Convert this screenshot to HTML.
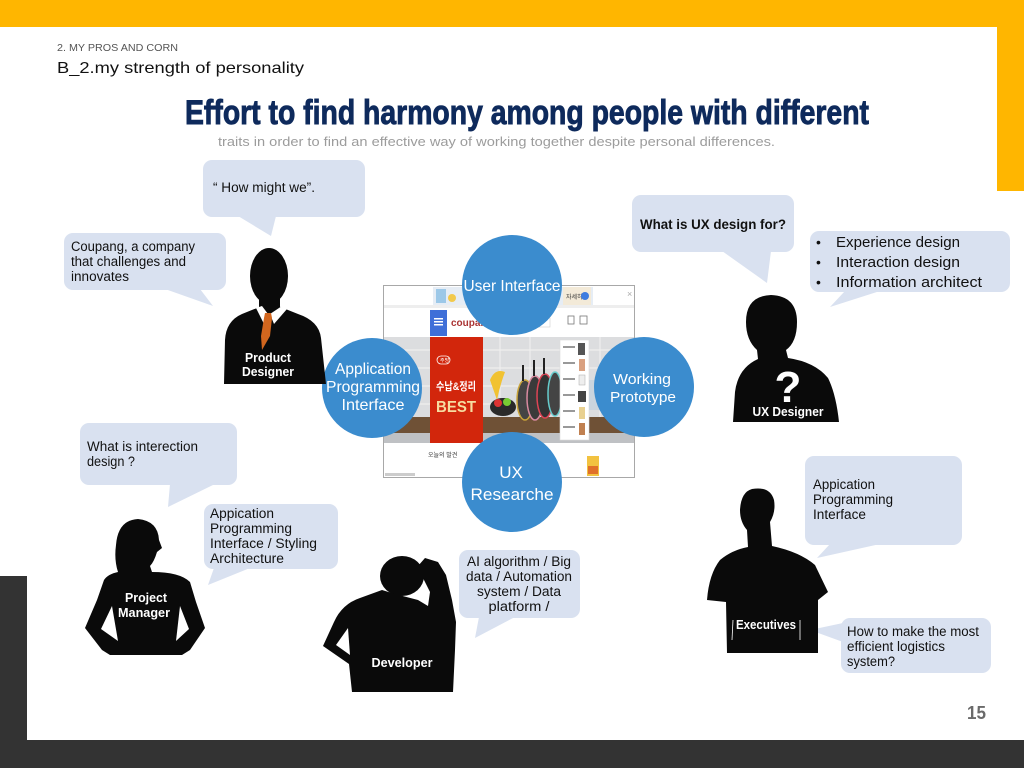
<!DOCTYPE html>
<html><head><meta charset="utf-8"><style>
html,body{margin:0;padding:0;background:#fff;}
svg{display:block;}
text{font-family:"Liberation Sans","Noto Sans CJK KR",sans-serif;}
</style></head><body>
<svg width="1024" height="768" viewBox="0 0 1024 768" xmlns="http://www.w3.org/2000/svg">
<rect width="1024" height="768" fill="#fff"/>
<!-- frame -->
<rect x="0" y="0" width="1024" height="27" fill="#FFB600"/>
<rect x="997" y="0" width="27" height="191" fill="#FFB600"/>
<rect x="0" y="576" width="27" height="192" fill="#333"/>
<rect x="0" y="740" width="1024" height="28" fill="#333"/>

<!-- headers -->
<text x="57" y="51" font-size="10" fill="#555" textLength="121" lengthAdjust="spacingAndGlyphs">2. MY PROS AND CORN</text>
<text x="57" y="73" font-size="16" fill="#111" textLength="247" lengthAdjust="spacingAndGlyphs">B_2.my strength of personality</text>
<text x="185" y="124" font-size="34" font-weight="bold" fill="#0e2a5c" stroke="#0e2a5c" stroke-width="0.9" textLength="684" lengthAdjust="spacingAndGlyphs">Effort to find harmony among people with different</text>
<text x="218" y="146" font-size="13" fill="#9c9c9c" textLength="557" lengthAdjust="spacingAndGlyphs">traits in order to find an effective way of working together despite personal differences.</text>

<!-- center screenshot -->
<g>
<rect x="383.5" y="285.5" width="251" height="192" fill="#fff" stroke="#a8a8a8"/>
<rect x="433" y="287" width="160" height="18" fill="#e6edf5"/>
<rect x="436" y="289" width="10" height="14" fill="#9cc8e8"/>
<circle cx="452" cy="298" r="4" fill="#f2c94c"/>
<rect x="563" y="287" width="28" height="18" fill="#f3ead8"/>
<text x="566" y="299" font-size="6" fill="#333">자세히</text>
<circle cx="585" cy="296" r="4" fill="#3d7ce0"/>
<text x="627" y="297" font-size="9" fill="#aaa">×</text>
<rect x="384" y="305" width="250" height="3" fill="#eee"/>
<rect x="430" y="310" width="17" height="26" fill="#3f6fd8"/>
<rect x="434" y="318" width="9" height="1.5" fill="#fff"/><rect x="434" y="321" width="9" height="1.5" fill="#fff"/><rect x="434" y="324" width="9" height="1.5" fill="#fff"/>
<text x="451" y="326" font-size="10" font-weight="bold" fill="#a33">coupang</text>
<rect x="500" y="318" width="50" height="9" fill="#fff" stroke="#ccc" stroke-width="0.6"/>
<rect x="568" y="316" width="6" height="8" fill="none" stroke="#777" stroke-width="0.8"/>
<rect x="580" y="316" width="7" height="8" fill="none" stroke="#777" stroke-width="0.8"/>
<!-- hero -->
<rect x="384" y="337" width="250" height="106" fill="#dcdddf"/>
<g stroke="#eeeeee" stroke-width="1.2">
<line x1="384" y1="350" x2="634" y2="350"/><line x1="384" y1="368" x2="634" y2="368"/><line x1="384" y1="386" x2="634" y2="386"/><line x1="384" y1="404" x2="634" y2="404"/>
<line x1="500" y1="337" x2="500" y2="417"/><line x1="530" y1="337" x2="530" y2="417"/><line x1="600" y1="337" x2="600" y2="417"/>
</g>
<rect x="384" y="417" width="250" height="16" fill="#6f5136"/>
<rect x="384" y="433" width="250" height="10" fill="#bfc1c4"/>
<rect x="430" y="337" width="53" height="106" fill="#d2260c"/>
<rect x="437" y="356" width="13" height="8" rx="4" fill="none" stroke="#fff" stroke-width="0.8"/>
<text x="440" y="362" font-size="5" fill="#fff">주방</text>
<text x="436" y="390" font-size="11" font-weight="bold" fill="#fff" textLength="40" lengthAdjust="spacingAndGlyphs">수납&amp;정리</text>
<text x="436" y="412" font-size="16" font-weight="bold" fill="#f6dca0" textLength="40" lengthAdjust="spacingAndGlyphs">BEST</text>
<!-- fruit basket -->
<path d="M490,380 Q495,368 505,372 Q500,385 497,400 Z" fill="#f1c232"/>
<ellipse cx="503" cy="407" rx="13" ry="9" fill="#2a2a2a"/>
<circle cx="498" cy="403" r="4" fill="#d33"/><circle cx="507" cy="402" r="4" fill="#7c3"/>
<!-- pans -->
<ellipse cx="525" cy="400" rx="8" ry="20" fill="#444" stroke="#c9a43a" stroke-width="1.5"/>
<ellipse cx="535" cy="398" rx="8" ry="22" fill="#3a3a3a" stroke="#d98aa0" stroke-width="1.5"/>
<ellipse cx="545" cy="396" rx="8" ry="22" fill="#333" stroke="#d45" stroke-width="1.5"/>
<ellipse cx="555" cy="394" rx="7" ry="22" fill="#444" stroke="#6cc" stroke-width="1.5"/>
<rect x="522" y="365" width="2" height="16" fill="#222"/><rect x="533" y="360" width="2" height="16" fill="#222"/><rect x="543" y="358" width="2" height="16" fill="#222"/>
<!-- product list -->
<rect x="560" y="340" width="29" height="100" fill="#fff" stroke="#ddd" stroke-width="0.6"/>
<g fill="#999"><rect x="563" y="346" width="12" height="2"/><rect x="563" y="362" width="12" height="2"/><rect x="563" y="378" width="12" height="2"/><rect x="563" y="394" width="12" height="2"/><rect x="563" y="410" width="12" height="2"/><rect x="563" y="426" width="12" height="2"/></g>
<g><rect x="578" y="343" width="7" height="12" fill="#555"/><rect x="579" y="359" width="6" height="12" fill="#d9a080"/><rect x="579" y="375" width="6" height="10" fill="#eee" stroke="#aaa" stroke-width="0.5"/><rect x="578" y="391" width="8" height="11" fill="#444"/><rect x="579" y="407" width="6" height="12" fill="#e8d090"/><rect x="579" y="423" width="6" height="12" fill="#c08050"/></g>
<rect x="589" y="380" width="45" height="30" fill="#c9d4de"/>
<text x="428" y="457" font-size="6" fill="#333">오늘의 발견</text>
<rect x="587" y="456" width="12" height="20" fill="#f2c240"/>
<rect x="588" y="466" width="10" height="8" fill="#e0702a"/>
<rect x="385" y="473" width="30" height="3" fill="#ccc"/>
</g>

<!-- circles -->
<g fill="#3b8cce">
<circle cx="512" cy="285" r="50"/>
<circle cx="372" cy="388" r="50"/>
<circle cx="644" cy="387" r="50"/>
<circle cx="512" cy="482" r="50"/>
</g>
<g fill="#fff" font-size="16" text-anchor="middle">
<text x="512" y="291" textLength="97" lengthAdjust="spacingAndGlyphs">User Interface</text>
<text x="373" y="374" textLength="76" lengthAdjust="spacingAndGlyphs">Application</text>
<text x="373" y="392" textLength="94" lengthAdjust="spacingAndGlyphs">Programming</text>
<text x="373" y="410" textLength="63" lengthAdjust="spacingAndGlyphs">Interface</text>
<text x="642" y="384" font-size="15" textLength="58" lengthAdjust="spacingAndGlyphs">Working</text>
<text x="643" y="402" font-size="15" textLength="66" lengthAdjust="spacingAndGlyphs">Prototype</text>
<text x="511" y="478" font-size="17">UX</text>
<text x="512" y="500" font-size="17" textLength="83" lengthAdjust="spacingAndGlyphs">Researche</text>
</g>

<!-- speech bubbles -->
<g fill="#d9e1f0">
<rect x="203" y="160" width="162" height="57" rx="9"/>
<polygon points="238,216 271,236 276,216"/>
<rect x="64" y="233" width="162" height="57" rx="9"/>
<polygon points="165,289 213,306 200,289"/>
<rect x="632" y="195" width="162" height="57" rx="9"/>
<polygon points="722,251 767,283 771,251"/>
<rect x="810" y="231" width="200" height="61" rx="9"/>
<polygon points="845,291 830,307 880,291"/>
<rect x="80" y="423" width="157" height="62" rx="9"/>
<polygon points="170,484 168,507 215,484"/>
<rect x="204" y="504" width="134" height="65" rx="9"/>
<polygon points="214,568 208,585 250,568"/>
<rect x="459" y="550" width="121" height="68" rx="9"/>
<polygon points="479,617 475,638 515,617"/>
<rect x="805" y="456" width="157" height="89" rx="9"/>
<polygon points="830,544 817,558 880,544"/>
<rect x="841" y="618" width="150" height="55" rx="9"/>
<polygon points="843,623 810,630 843,642"/>
</g>

<g fill="#111" font-size="13.5">
<text x="213" y="192" textLength="102" lengthAdjust="spacingAndGlyphs">“ How might we”.</text>
<text x="71" y="251" textLength="124" lengthAdjust="spacingAndGlyphs">Coupang, a company</text>
<text x="71" y="266" textLength="115" lengthAdjust="spacingAndGlyphs">that challenges and</text>
<text x="71" y="281" textLength="58" lengthAdjust="spacingAndGlyphs">innovates</text>
<text x="640" y="229" font-weight="bold" textLength="146" lengthAdjust="spacingAndGlyphs">What is UX design for?</text>
<text x="816" y="247" font-size="14">•</text>
<text x="816" y="267" font-size="14">•</text>
<text x="816" y="287" font-size="14">•</text>
<text x="836" y="247" font-size="14.5" textLength="124" lengthAdjust="spacingAndGlyphs">Experience design</text>
<text x="836" y="267" font-size="14.5" textLength="124" lengthAdjust="spacingAndGlyphs">Interaction design</text>
<text x="836" y="287" font-size="14.5" textLength="146" lengthAdjust="spacingAndGlyphs">Information architect</text>
<text x="87" y="451" textLength="111" lengthAdjust="spacingAndGlyphs">What is interection</text>
<text x="87" y="466" textLength="48" lengthAdjust="spacingAndGlyphs">design ?</text>
<text x="210" y="518" textLength="64" lengthAdjust="spacingAndGlyphs">Appication</text>
<text x="210" y="533" textLength="82" lengthAdjust="spacingAndGlyphs">Programming</text>
<text x="210" y="548" textLength="107" lengthAdjust="spacingAndGlyphs">Interface  / Styling</text>
<text x="210" y="563" textLength="74" lengthAdjust="spacingAndGlyphs">Architecture</text>
<g text-anchor="middle">
<text x="519" y="566" textLength="104" lengthAdjust="spacingAndGlyphs">AI algorithm  / Big</text>
<text x="519" y="581" textLength="106" lengthAdjust="spacingAndGlyphs">data / Automation</text>
<text x="519" y="596" textLength="84" lengthAdjust="spacingAndGlyphs">system  / Data</text>
<text x="519" y="611" textLength="61" lengthAdjust="spacingAndGlyphs">platform /</text>
</g>
<text x="813" y="489" textLength="62" lengthAdjust="spacingAndGlyphs">Appication</text>
<text x="813" y="504" textLength="80" lengthAdjust="spacingAndGlyphs">Programming</text>
<text x="813" y="519" textLength="53" lengthAdjust="spacingAndGlyphs">Interface</text>
<text x="847" y="636" textLength="132" lengthAdjust="spacingAndGlyphs">How to make the most</text>
<text x="847" y="651" textLength="98" lengthAdjust="spacingAndGlyphs">efficient logistics</text>
<text x="847" y="666" textLength="48" lengthAdjust="spacingAndGlyphs">system?</text>
</g>

<!-- Product Designer silhouette -->
<g fill="#0a0a0a">
<ellipse cx="269" cy="276" rx="19" ry="28"/>
<rect x="259" y="292" width="21" height="18"/>
<path d="M224,384 L225,340 Q226,321 242,314 L262,306 L278,306 L298,314 Q319,321 321,338 L326,384 Z"/>
</g>
<polygon points="256,308 262,306 268,314 264,324" fill="#fff"/>
<polygon points="282,306 287,309 274,324 270,314" fill="#fff"/>
<polygon points="265,313 271,313 272,318 270,336 262,350 261,336 264,318" fill="#d2661e"/>
<g fill="#fff" font-size="13" font-weight="bold" text-anchor="middle">
<text x="268" y="362" textLength="46" lengthAdjust="spacingAndGlyphs">Product</text>
<text x="268" y="376" textLength="52" lengthAdjust="spacingAndGlyphs">Designer</text>
</g>

<!-- UX Designer silhouette -->
<g fill="#0a0a0a">
<path d="M771,295 Q797,296 797,322 Q797,342 786,350 L788,358 Q815,362 828,378 Q836,394 839,422 L733,422 L735,392 Q738,368 758,359 L757,350 Q746,340 746,322 Q746,296 771,295 Z"/>
</g>
<text x="788" y="402" fill="#fff" font-size="44" font-weight="bold" text-anchor="middle">?</text>
<text x="788" y="416" fill="#fff" font-size="13" font-weight="bold" text-anchor="middle" textLength="71" lengthAdjust="spacingAndGlyphs">UX Designer</text>

<!-- Project Manager silhouette -->
<g fill="#0a0a0a">
<path d="M138,519 Q158,521 159,540 L162,548 L157,552 Q154,562 150,566 L152,572 Q180,572 190,582 L196,602 L205,628 L190,650 L182,655 L110,655 L102,650 L85,628 L97,600 L104,580 Q108,574 118,572 Q114,560 116,545 Q118,520 138,519 Z"/>
</g>
<polygon points="101,629 112,606 118,641" fill="#fff"/>
<polygon points="189,629 180,606 176,641" fill="#fff"/>
<g fill="#fff" font-size="13" font-weight="bold" text-anchor="middle">
<text x="146" y="602" textLength="42" lengthAdjust="spacingAndGlyphs">Project</text>
<text x="144" y="617" textLength="52" lengthAdjust="spacingAndGlyphs">Manager</text>
</g>

<!-- Developer silhouette -->
<g fill="#0a0a0a">
<ellipse cx="402" cy="576" rx="22" ry="20"/>
<path d="M418,566 L425,558 L438,562 L446,575 L452,600 L456,622 L455,650 L453,692 L352,692 L349,664 L323,646 L334,622 Q342,604 360,598 L382,590 L395,594 L418,600 L428,606 L430,592 L424,580 Z"/>
</g>
<polygon points="336,645 348,628 350,655" fill="#fff"/>
<text x="402" y="667" fill="#fff" font-size="13" font-weight="bold" text-anchor="middle" textLength="61" lengthAdjust="spacingAndGlyphs">Developer</text>

<!-- Executives silhouette -->
<g fill="#0a0a0a">
<path d="M752,489 Q770,486 774,500 Q776,512 770,522 L772,546 Q800,552 815,565 L828,592 L818,600 L818,653 L727,653 L726,602 L707,600 Q709,574 720,560 Q732,550 748,547 L747,530 Q740,522 740,510 Q741,492 752,489 Z"/>
</g>
<text x="766" y="629" fill="#fff" font-size="13" font-weight="bold" text-anchor="middle" textLength="60" lengthAdjust="spacingAndGlyphs">Executives</text>
<line x1="733" y1="620" x2="732" y2="640" stroke="#fff" stroke-width="0.8"/>
<line x1="800" y1="620" x2="800" y2="640" stroke="#fff" stroke-width="0.8"/>

<!-- page number -->
<text x="967" y="719" font-size="18" font-weight="bold" fill="#6a6a6a" textLength="19" lengthAdjust="spacingAndGlyphs">15</text>
</svg>
</body></html>
